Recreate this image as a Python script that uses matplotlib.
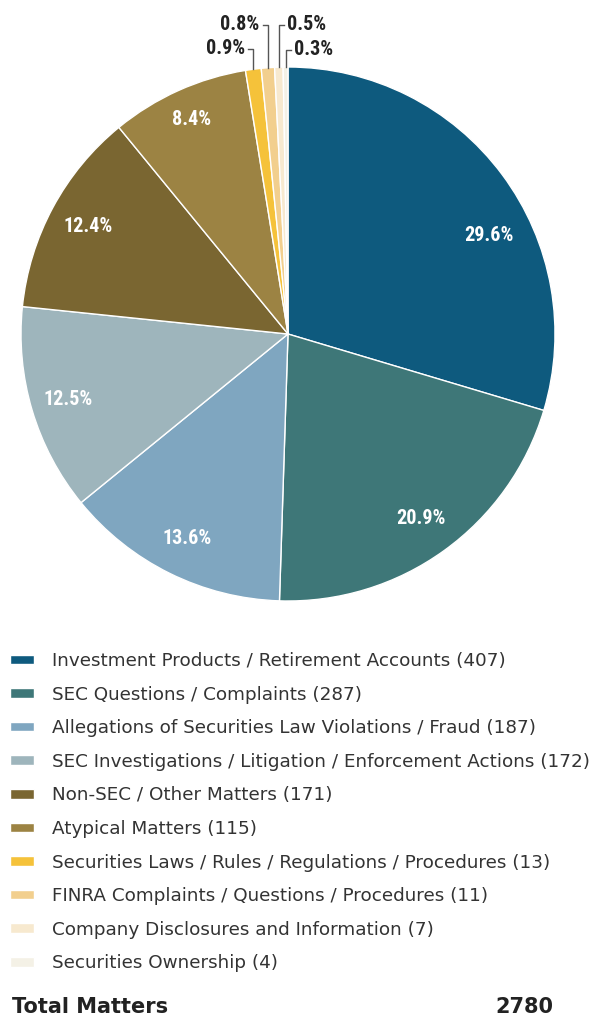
import matplotlib.pyplot as plt
import numpy as np

categories = [
    "Investment Products / Retirement Accounts",
    "SEC Questions / Complaints",
    "Allegations of Securities Law Violations / Fraud",
    "SEC Investigations / Litigation / Enforcement Actions",
    "Non-SEC / Other Matters",
    "Atypical Matters",
    "Securities Laws / Rules / Regulations / Procedures",
    "FINRA Complaints / Questions / Procedures",
    "Company Disclosures and Information",
    "Securities Ownership",
]
counts = [407, 287, 187, 172, 171, 115, 13, 11, 7, 4]
colors = ["#0e5a7e", "#3e7778", "#7fa6c0", "#9eb5bc", "#7a6631",
          "#9c8343", "#f5c23a", "#f2cf8e", "#f7e9cf", "#f4f1e6"]
total_label = "2780"

# inside labels: angle nudge (deg) and radius
inner_shift = [-10.5, 0, 0, 0, 0, 0]
inner_r = [0.84, 0.85, 0.855, 0.86, 0.85, 0.88]
# small outside labels: text height (data units) and side
small_text_y = {6: 1.068, 7: 1.158, 8: 1.158, 9: 1.064}
small_side = {6: "left", 7: "left", 8: "right", 9: "right"}

pct_font = dict(family=["Roboto Condensed", "Roboto", "DejaVu Sans"], weight="bold")

fig = plt.figure(figsize=(5.93, 10.19), dpi=100)
ax = fig.add_axes([21 / 593, 1 - 601 / 1019, 534 / 593, 534 / 1019])

wedges, _ = ax.pie(counts, colors=colors, startangle=90, counterclock=False,
                   wedgeprops=dict(edgecolor="white", linewidth=1))
ax.set_xlim(-1, 1)
ax.set_ylim(-1, 1)
ax.set_aspect("equal")
ax.axis("off")

total = sum(counts)
for i, w in enumerate(wedges):
    pct = counts[i] / total * 100
    mid_deg = (w.theta1 + w.theta2) / 2
    if i < 6:
        a = np.deg2rad(mid_deg + inner_shift[i])
        ax.text(inner_r[i] * np.cos(a), inner_r[i] * np.sin(a), f"{pct:.1f}%",
                ha="center", va="center", color="white", fontsize=14.5, **pct_font)
    else:
        a = np.deg2rad(mid_deg)
        x, y = np.cos(a), np.sin(a)
        ty = small_text_y[i]
        right = small_side[i] == "right"
        tick = 0.02 if right else -0.02
        ax.plot([x, x, x + tick], [y, ty, ty], color="#555555", lw=1, clip_on=False)
        ax.text(x + tick * 1.6, ty, f"{pct:.1f}%", ha="left" if right else "right",
                va="center", color="#222222", fontsize=14.5, clip_on=False, **pct_font)

labels = [f"{c} ({n})" for c, n in zip(categories, counts)]
fig.legend(wedges, labels, loc="upper left", bbox_to_anchor=(10 / 593, 1 - 652 / 1019),
           frameon=False, handlelength=1.3, handleheight=0.43,
           handletextpad=0.97, labelspacing=0.85, borderpad=0, borderaxespad=0,
           labelcolor="#333333", prop=dict(family="DejaVu Sans", size=13.2))

fig.text(12 / 593, 1 - 1007 / 1019, "Total Matters", ha="left", va="center",
         fontsize=15, fontweight="bold", family="DejaVu Sans", color="#222222")
fig.text(553 / 593, 1 - 1007 / 1019, total_label, ha="right", va="center",
         fontsize=15, fontweight="bold", family="DejaVu Sans", color="#222222")

fig.savefig("out.png", dpi=100, facecolor="white")
